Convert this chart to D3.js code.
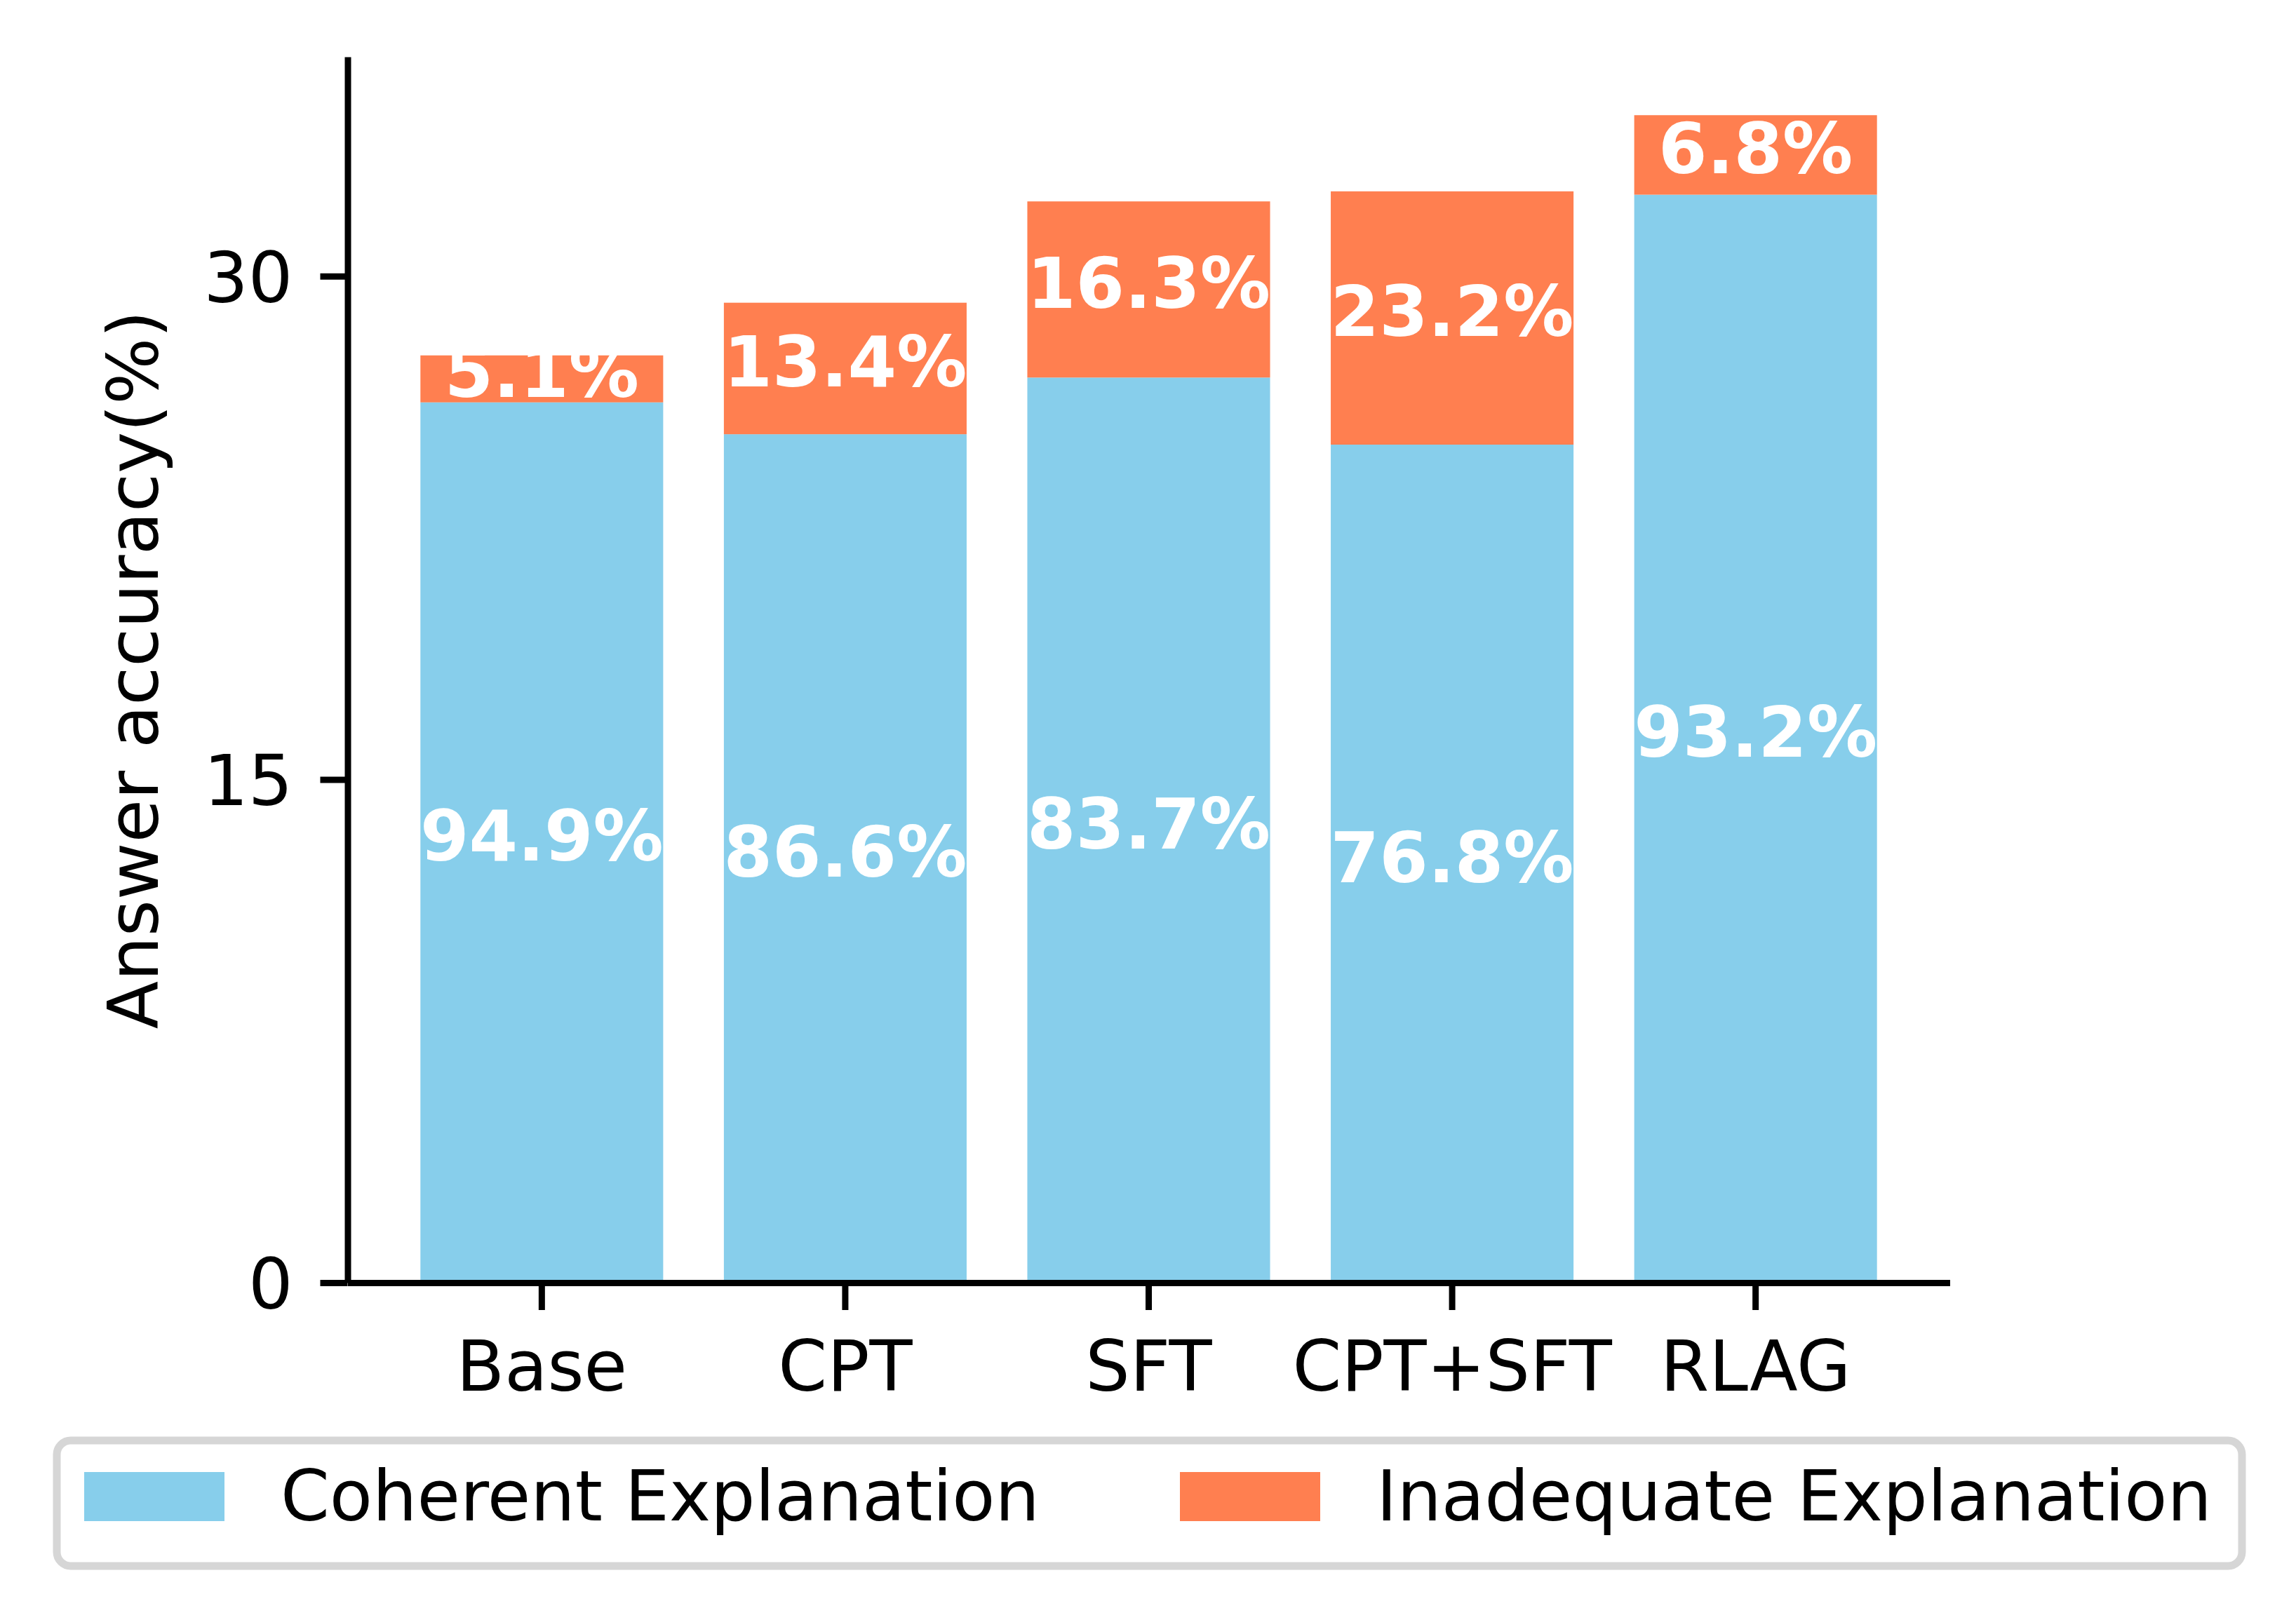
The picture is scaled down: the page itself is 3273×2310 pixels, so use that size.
<!DOCTYPE html>
<html>
<head>
<meta charset="utf-8">
<script src="https://cdn.jsdelivr.net/npm/d3@7"></script>
<style>
  body { margin: 0; background: #fff; }
  svg { display: block; }
</style>
</head>
<body>
<div id="chart"></div>
<script>
var categories = ["Base", "CPT", "SFT", "CPT+SFT", "RLAG"];
var coherent = [26.24, 25.29, 26.98, 24.98, 32.43];
var inadequate = [1.40, 3.92, 5.25, 7.55, 2.37];
var coherentLabels = ["94.9%", "86.6%", "83.7%", "76.8%", "93.2%"];
var inadequateLabels = ["5.1%", "13.4%", "16.3%", "23.2%", "6.8%"];
var yTicks = [0, 15, 30];
var seriesNames = ["Coherent Explanation", "Inadequate Explanation"];
var colors = ["#87CEEB", "#FF7F50"];

var svgWidth = 3273;
var svgHeight = 2310;
var fs = 100;

// plot area in pixels (window.top is reserved, so use a margin object)
var plot = { left: 495.5, right: 2779.5, top: 81, bottom: 1829 };

var svg = d3.select("#chart")
    .append("svg")
    .attr("width", svgWidth)
    .attr("height", svgHeight)
    .style("font-family", "'DejaVu Sans', sans-serif");

svg.append("rect")
    .attr("width", svgWidth)
    .attr("height", svgHeight)
    .attr("fill", "#fff");

var rows = categories.map(function(c, i) {
    return { cat: c, coh: coherent[i], inad: inadequate[i],
             cohLabel: coherentLabels[i], inadLabel: inadequateLabels[i] };
});

var xScale = d3.scaleBand()
    .domain(categories)
    .range([plot.left, plot.right])
    .paddingInner(0.2)
    .paddingOuter(0.24);

var yMax = d3.max(rows, function(d) { return d.coh + d.inad; }) * 1.05;
var yScale = d3.scaleLinear()
    .domain([0, yMax])
    .range([plot.bottom, plot.top]);

var chartGroup = svg.append("g");

// coherent part
chartGroup.selectAll(".coh")
    .data(rows)
    .enter()
    .append("rect")
    .attr("x", function(d) { return xScale(d.cat); })
    .attr("width", xScale.bandwidth())
    .attr("y", function(d) { return yScale(d.coh); })
    .attr("height", function(d) { return yScale(0) - yScale(d.coh); })
    .attr("fill", colors[0]);

// inadequate part on top
chartGroup.selectAll(".inad")
    .data(rows)
    .enter()
    .append("rect")
    .attr("x", function(d) { return xScale(d.cat); })
    .attr("width", xScale.bandwidth())
    .attr("y", function(d) { return yScale(d.coh + d.inad); })
    .attr("height", function(d) { return yScale(d.coh) - yScale(d.coh + d.inad); })
    .attr("fill", colors[1]);

// percentage labels, centred in each segment
chartGroup.selectAll(".cohText")
    .data(rows)
    .enter()
    .append("text")
    .attr("x", function(d) { return xScale(d.cat) + xScale.bandwidth() / 2; })
    .attr("y", function(d) { return (yScale(0) + yScale(d.coh)) / 2 + 0.26 * fs; })
    .attr("text-anchor", "middle")
    .attr("font-size", fs)
    .attr("font-weight", "bold")
    .attr("fill", "#fff")
    .text(function(d) { return d.cohLabel; });

chartGroup.selectAll(".inadText")
    .data(rows)
    .enter()
    .append("text")
    .attr("x", function(d) { return xScale(d.cat) + xScale.bandwidth() / 2; })
    .attr("y", function(d) { return (yScale(d.coh) + yScale(d.coh + d.inad)) / 2 + 0.26 * fs; })
    .attr("text-anchor", "middle")
    .attr("font-size", fs)
    .attr("font-weight", "bold")
    .attr("fill", "#fff")
    .text(function(d) { return d.inadLabel; });

// axes
var yAxis = d3.axisLeft(yScale)
    .tickValues(yTicks)
    .tickFormat(d3.format("d"))
    .tickSize(39)
    .tickSizeOuter(0)
    .tickPadding(39);

var xAxis = d3.axisBottom(xScale)
    .tickSize(39)
    .tickSizeOuter(0)
    .tickPadding(39);

var gy = svg.append("g")
    .attr("transform", "translate(" + plot.left + ",0)")
    .call(yAxis);

var gx = svg.append("g")
    .attr("transform", "translate(0," + plot.bottom + ")")
    .call(xAxis);

[gx, gy].forEach(function(g) {
    g.attr("font-family", null).attr("font-size", null);
    g.select(".domain").attr("stroke", "#000").attr("stroke-width", 9);
    g.selectAll(".tick line").attr("stroke", "#000").attr("stroke-width", 9);
    g.selectAll(".tick text")
        .attr("fill", "#000")
        .style("font-size", fs + "px")
        .style("font-family", "'DejaVu Sans', sans-serif");
});
gy.selectAll(".tick text").attr("dy", "0.365em");
gx.selectAll(".tick text").attr("dy", "0.76em");

// y axis title
svg.append("text")
    .attr("transform", "translate(225," + ((plot.top + plot.bottom) / 2) + ") rotate(-90)")
    .attr("text-anchor", "middle")
    .attr("font-size", fs)
    .attr("fill", "#000")
    .text("Answer accuracy(%)");

// legend
var legend = svg.append("g");
legend.append("rect")
    .attr("x", 81)
    .attr("y", 2054)
    .attr("width", 3115)
    .attr("height", 179)
    .attr("rx", 20)
    .attr("ry", 20)
    .attr("fill", "#fff")
    .attr("stroke", "#d6d6d6")
    .attr("stroke-width", 11);

var legendX = [120, 1682];
seriesNames.forEach(function(name, i) {
    legend.append("rect")
        .attr("x", legendX[i])
        .attr("y", 2099)
        .attr("width", 200)
        .attr("height", 70)
        .attr("fill", colors[i]);
    legend.append("text")
        .attr("x", legendX[i] + 280)
        .attr("y", 2168)
        .attr("font-size", fs)
        .attr("fill", "#000")
        .text(name);
});
</script>
</body>
</html>
